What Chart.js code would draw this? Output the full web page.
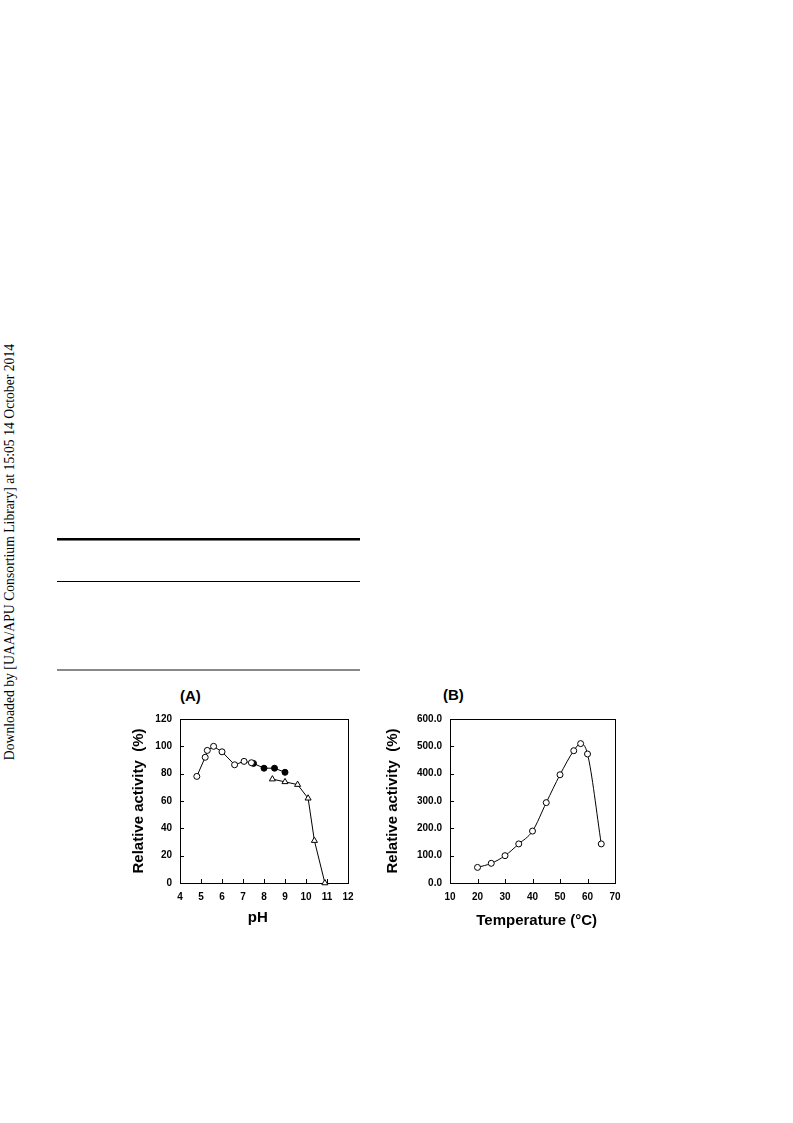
<!DOCTYPE html>
<html>
<head>
<meta charset="utf-8">
<script src="https://cdn.jsdelivr.net/npm/chart.js@4"></script>
<style>
  body { margin: 0; background: #fff; width: 793px; height: 1123px; position: relative; overflow: hidden; font-family: "Liberation Sans", Arial, sans-serif; }
  .box { position: absolute; }
  .rule { position: absolute; left: 57px; width: 303px; }
  .tag { position: absolute; font: bold 15px "Liberation Sans", Arial, sans-serif; color: #000; }
  #side { position: absolute; left: 10px; top: 552px; white-space: nowrap; font: 13.7px "Liberation Serif", "Times New Roman", serif; color: #000;
          transform: translate(-50%, -50%) rotate(-90deg); }
</style>
</head>
<body>
<div id="side">Downloaded by [UAA/APU Consortium Library] at 15:05 14 October 2014</div>

<div class="rule" style="top:538px;height:2px;background:#000;"></div>
<div class="rule" style="top:540px;height:1px;background:#777;"></div>
<div class="rule" style="top:581px;height:1px;background:#000;"></div>
<div class="rule" style="top:669px;height:2px;background:#888;"></div>

<div class="tag" style="left:180px;top:687px;">(A)</div>
<div class="tag" style="left:443px;top:686px;">(B)</div>

<div class="box" style="left:120px;top:700px;width:250px;height:240px;"><canvas id="chartA"></canvas></div>
<div class="box" style="left:380px;top:700px;width:250px;height:240px;"><canvas id="chartB"></canvas></div>

<script>
// (A) pH profile
const phOpen = [4.8, 5.2, 5.3, 5.6, 6.0, 6.6, 7.05, 7.4];
const actOpen = [78, 92, 97, 100, 96, 86.5, 89, 88];
const phFilled = [7.5, 8.0, 8.5, 9.0];
const actFilled = [87.5, 84, 84, 81];
const phTri = [8.4, 9.0, 9.6, 10.1, 10.4, 10.9];
const actTri = [76, 74, 72, 62, 31, 0];

// (B) temperature profile
const temps = [20, 25, 30, 35, 40, 45, 50, 55, 57.5, 60, 65];
const actTemp = [57, 72, 100, 143, 190, 294, 396, 484, 510, 472, 143];

const tickFont = { family: '"Liberation Sans", Arial, sans-serif', size: 10, weight: 'bold' };
const titleFont = { family: '"Liberation Sans", Arial, sans-serif', size: 15, weight: 'bold' };

const toPts = (xs, ys) => xs.map((v, i) => ({ x: v, y: ys[i] }));

// box round the plot plus short inward ticks
const frame = {
  id: 'frame',
  beforeDatasetsDraw(chart) {
    const { ctx, chartArea: a, scales: { x, y } } = chart;
    ctx.save();
    ctx.strokeStyle = '#000';
    ctx.lineWidth = 1;
    ctx.strokeRect(Math.round(a.left) + 0.5, Math.round(a.top) + 0.5,
      Math.round(a.right - a.left), Math.round(a.bottom - a.top));
    ctx.beginPath();
    x.ticks.forEach(t => {
      const px = Math.round(x.getPixelForValue(t.value)) + 0.5;
      ctx.moveTo(px, a.bottom);
      ctx.lineTo(px, a.bottom - 4);
    });
    y.ticks.forEach(t => {
      const py = Math.round(y.getPixelForValue(t.value)) + 0.5;
      ctx.moveTo(a.left, py);
      ctx.lineTo(a.left + 4, py);
    });
    ctx.stroke();
    ctx.restore();
  }
};

function series(data, style, fill, radius) {
  return {
    data: data,
    borderColor: '#000',
    borderWidth: 1,
    pointStyle: style,
    pointRadius: radius,
    pointBackgroundColor: fill,
    pointBorderColor: '#000',
    pointBorderWidth: 1,
    clip: false
  };
}

function axes(xOpt, yOpt) {
  return {
    x: Object.assign({
      type: 'linear',
      grid: { display: false, drawTicks: false },
      border: { display: false }
    }, xOpt),
    y: Object.assign({
      type: 'linear',
      grid: { display: false, drawTicks: false },
      border: { display: false }
    }, yOpt)
  };
}

new Chart(document.getElementById('chartA'), {
  type: 'line',
  data: {
    datasets: [
      series(toPts(phOpen, actOpen), 'circle', '#fff', 3),
      series(toPts(phFilled, actFilled), 'circle', '#000', 3),
      series(toPts(phTri, actTri), 'triangle', '#fff', 3.5)
    ]
  },
  options: {
    responsive: true,
    maintainAspectRatio: false,
    animation: false,
    layout: { padding: { top: 19, right: 22, left: 0, bottom: 0 } },
    plugins: { legend: { display: false }, tooltip: { enabled: false } },
    scales: axes({
      min: 4, max: 12,
      ticks: { font: tickFont, color: '#000', padding: 8, stepSize: 1, maxRotation: 0 },
      title: { display: true, text: 'pH   ', font: titleFont, color: '#000', padding: { top: 0, bottom: 13 } },
      afterFit: s => { s.height = 57; }
    }, {
      min: 0, max: 120,
      ticks: { font: tickFont, color: '#000', padding: 8, stepSize: 20 },
      title: { display: true, text: 'Relative activity  (%)', font: titleFont, color: '#000', padding: { top: 10, bottom: 0 } },
      afterFit: s => { s.width = 60; }
    })
  },
  plugins: [frame]
});

new Chart(document.getElementById('chartB'), {
  type: 'line',
  data: {
    datasets: [
      Object.assign(series(toPts(temps, actTemp), 'circle', '#fff', 3), { cubicInterpolationMode: 'monotone' })
    ]
  },
  options: {
    responsive: true,
    maintainAspectRatio: false,
    animation: false,
    layout: { padding: { top: 19, right: 15, left: 0, bottom: 0 } },
    plugins: { legend: { display: false }, tooltip: { enabled: false } },
    scales: axes({
      min: 10, max: 70,
      ticks: { font: tickFont, color: '#000', padding: 8, stepSize: 10, maxRotation: 0 },
      title: { display: true, text: '  Temperature (\u00B0C)', font: titleFont, color: '#000', padding: { top: 0, bottom: 10 } },
      afterFit: s => { s.height = 57; }
    }, {
      min: 0, max: 600,
      ticks: { font: tickFont, color: '#000', padding: 8, stepSize: 100, callback: v => v.toFixed(1) },
      title: { display: true, text: 'Relative activity  (%)', font: titleFont, color: '#000', padding: { top: 4, bottom: 0 } },
      afterFit: s => { s.width = 70; }
    })
  },
  plugins: [frame]
});
</script>
</body>
</html>
